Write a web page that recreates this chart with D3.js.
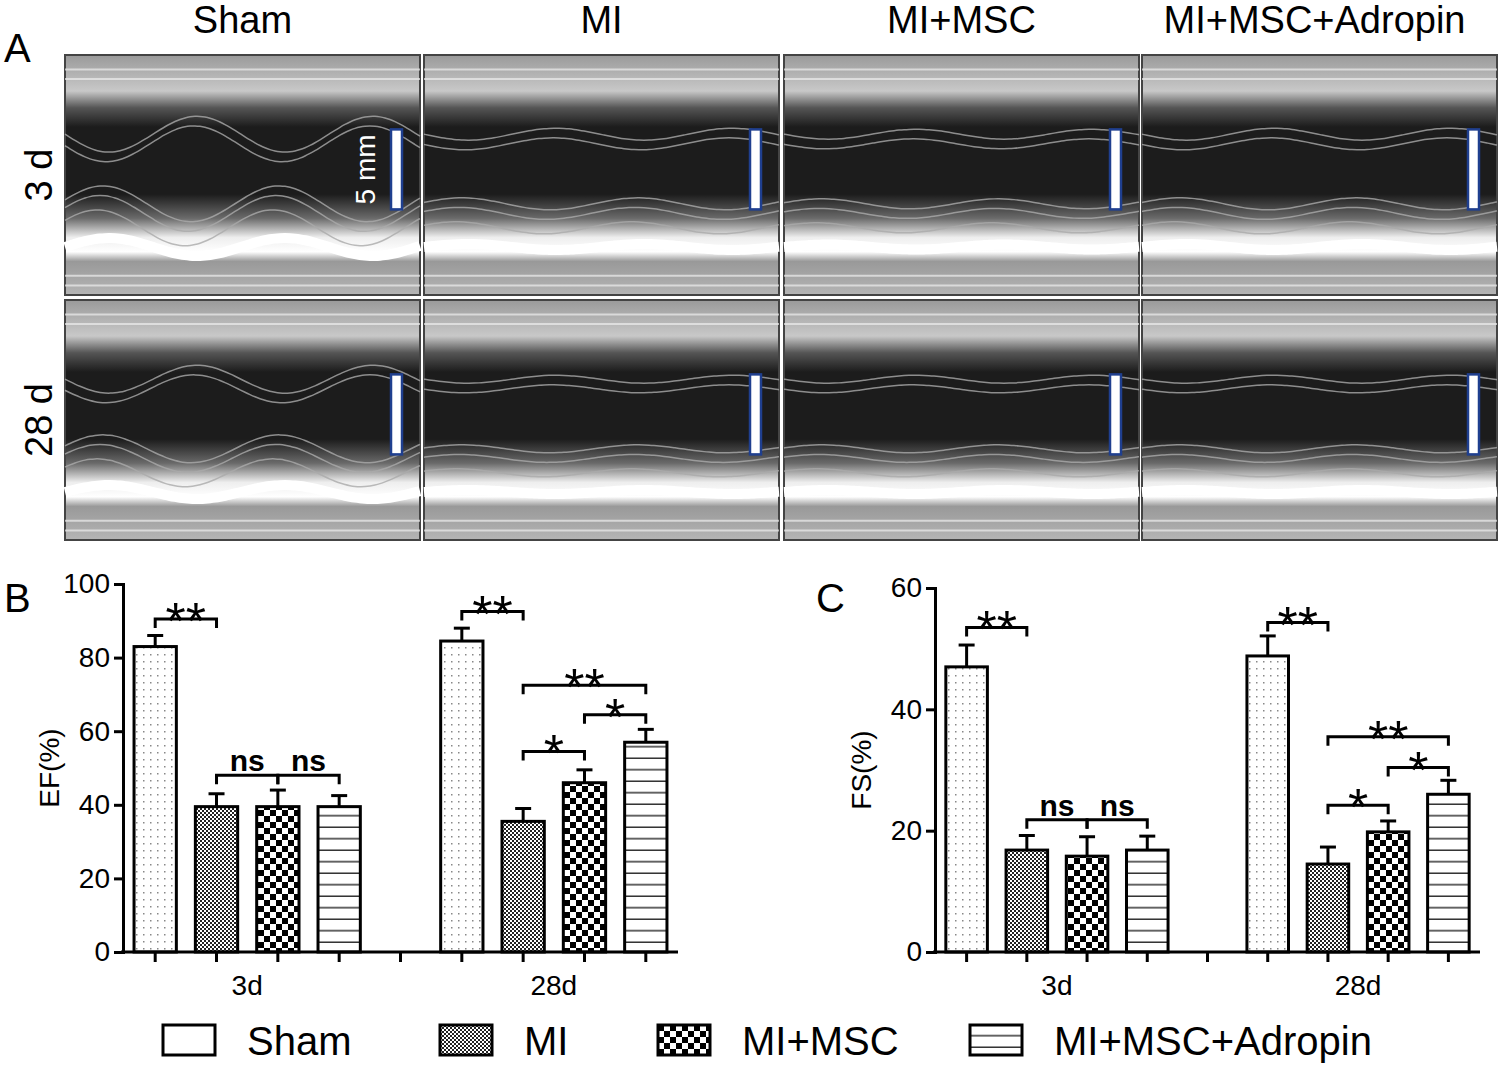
<!DOCTYPE html>
<html><head><meta charset="utf-8">
<script src="https://cdn.jsdelivr.net/npm/d3@7"></script>
<style>body{margin:0;background:#fff}svg{font-family:"Liberation Sans",Arial,sans-serif}</style>
</head><body><div id="chart"></div>
<script>
var groups = ["Sham", "MI", "MI+MSC", "MI+MSC+Adropin"];
var times = ["3d", "28d"];
var efMean = [[83, 39.5, 39.5, 39.5], [84.5, 35.5, 46, 57]];
var efErr = [[3, 3.5, 4.5, 3], [3.5, 3.5, 3.5, 3.5]];
var fsMean = [[47, 16.8, 15.8, 16.8], [48.8, 14.5, 19.8, 26]];
var fsErr = [[3.6, 2.4, 3.2, 2.3], [3.3, 2.8, 1.8, 2.3]];
// brackets: [time, from, to, value, label]
var efSig = [[0,0,1,90.5,"**"],[0,1,2,48,"ns"],[0,2,3,48,"ns"],[1,0,1,92.5,"**"],[1,1,2,54.5,"*"],[1,2,3,64.5,"*"],[1,1,3,72.5,"**"]];
var fsSig = [[0,0,1,53.5,"**"],[0,1,2,21.8,"ns"],[0,2,3,21.8,"ns"],[1,0,1,54.3,"**"],[1,1,2,24.2,"*"],[1,2,3,30.4,"*"],[1,1,3,35.5,"**"]];
var efTicks = [0, 20, 40, 60, 80, 100];
var fsTicks = [0, 20, 40, 60];
var rowLabels = ["3 d", "28 d"];

var svg = d3.select("#chart").append("svg").attr("width", 1500).attr("height", 1067);
var defs = svg.append("defs");

// fill patterns
var p = defs.append("pattern").attr("id","pSham").attr("patternUnits","userSpaceOnUse").attr("width",7).attr("height",7);
p.append("rect").attr("width",7).attr("height",7).attr("fill","#fff");
p.append("rect").attr("x",3).attr("y",3).attr("width",1.5).attr("height",1.5).attr("fill","#888");
p = defs.append("pattern").attr("id","pMI").attr("patternUnits","userSpaceOnUse").attr("width",4).attr("height",4);
p.append("rect").attr("width",4).attr("height",4).attr("fill","#fff");
p.append("rect").attr("width",2).attr("height",2).attr("fill","#222");
p.append("rect").attr("x",2).attr("y",2).attr("width",2).attr("height",2).attr("fill","#222");
p = defs.append("pattern").attr("id","pMSC").attr("patternUnits","userSpaceOnUse").attr("width",12).attr("height",12);
p.append("rect").attr("width",12).attr("height",12).attr("fill","#fff");
p.append("rect").attr("width",6).attr("height",6).attr("fill","#000");
p.append("rect").attr("x",6).attr("y",6).attr("width",6).attr("height",6).attr("fill","#000");
p = defs.append("pattern").attr("id","pAd").attr("patternUnits","userSpaceOnUse").attr("width",10).attr("height",11.5);
p.append("rect").attr("width",10).attr("height",11.5).attr("fill","#fff");
p.append("rect").attr("y",10).attr("width",10).attr("height",1.5).attr("fill","#333");
var fills = ["url(#pSham)","url(#pMI)","url(#pMSC)","url(#pAd)"];

// ---- panel A: echo strips (stylised) ----
var colX = [65, 424, 784, 1142], rowY = [55, 300];
var panelW = 355, panelH = 240;
var amp = [[18, 6, 5, 6], [14, 4, 4, 4]];
var lg = defs.append("linearGradient").attr("id","echoG").attr("x1",0).attr("x2",0).attr("y1",0).attr("y2",1);
[[0,"#9a9a9a"],[0.15,"#c8c8c8"],[0.22,"#555"],[0.3,"#1c1c1c"],[0.58,"#1c1c1c"],[0.68,"#6a6a6a"],[0.76,"#eee"],[0.82,"#ffffff"],[0.86,"#999"],[1,"#b5b5b5"]]
  .forEach(function(s){ lg.append("stop").attr("offset",s[0]).attr("stop-color",s[1]); });

svg.append("g").selectAll("text").data(groups).join("text")
  .attr("x", function(d,i){ return colX[i] + panelW/2 + (i === 3 ? -5 : 0); }).attr("y", 33)
  .attr("text-anchor","middle").attr("font-size",38).text(function(d){ return d; });
svg.append("text").attr("x",4).attr("y",62).attr("font-size",40).text("A");

rowY.forEach(function(ry, r){
  svg.append("text").attr("transform","translate(52," + (ry + panelH/2) + ") rotate(-90)")
    .attr("text-anchor","middle").attr("font-size",38).text(rowLabels[r]);
  colX.forEach(function(cx, c){
    var g = svg.append("g").attr("transform","translate(" + cx + "," + ry + ")");
    g.append("rect").attr("width",panelW).attr("height",panelH).attr("fill","url(#echoG)").attr("stroke","#444").attr("stroke-width",2);
    var a = amp[r][c];
    var wave = function(off, base, k){
      return d3.line().curve(d3.curveBasis)(d3.range(0, panelW + 1, 5).map(function(x){
        return [x, base + k * a * Math.sin((x + off) / 28)];
      }));
    };
    [[0.33,1],[0.37,1],[0.62,-1],[0.66,-1],[0.72,-1]].forEach(function(w, j){
      g.append("path").attr("d", wave(j*3, panelH*w[0], w[1])).attr("fill","none")
        .attr("stroke","#aaa").attr("stroke-width",1.5).attr("opacity",0.8);
    });
    g.append("path").attr("d", wave(0, panelH*0.8, -0.5)).attr("fill","none").attr("stroke","#fff").attr("stroke-width",10);
    [0.06,0.1,0.92,0.96].forEach(function(f){
      g.append("line").attr("x1",0).attr("x2",panelW).attr("y1",panelH*f).attr("y2",panelH*f)
        .attr("stroke","#eee").attr("stroke-width",2).attr("opacity",0.7);
    });
    g.append("rect").attr("x",panelW - 29).attr("y",panelH*0.31).attr("width",11).attr("height",80)
      .attr("fill","#fff").attr("stroke","#1f3f8f").attr("stroke-width",2.5);
    if (r === 0 && c === 0) {
      g.append("text").attr("transform","translate(" + (panelW - 45) + "," + (panelH*0.31 + 40) + ") rotate(-90)")
        .attr("text-anchor","middle").attr("fill","#fff").attr("font-size",28).text("5 mm");
    }
  });
});

// ---- bar panels ----
function barPanel(x0, x1, y0, yTop, maxV, ticks, mean, err, sig, ylab, letter, letterX){
  var slots = d3.range(9);
  var x = d3.scaleBand().domain(slots).range([x0, x1]).paddingInner(0.31).paddingOuter(0.18);
  var y = d3.scaleLinear().domain([0, maxV]).range([y0, yTop]);
  var g = svg.append("g");
  var slot = function(t, i){ return t * 5 + i; };

  times.forEach(function(tm, t){
    var rows = mean[t].map(function(v, i){ return {v: v, e: err[t][i], i: i}; });
    var bg = g.append("g");
    bg.selectAll("line.eb").data(rows).join("line")
      .attr("x1", function(d){ return x(slot(t,d.i)) + x.bandwidth()/2; })
      .attr("x2", function(d){ return x(slot(t,d.i)) + x.bandwidth()/2; })
      .attr("y1", function(d){ return y(d.v); }).attr("y2", function(d){ return y(d.v + d.e); })
      .attr("stroke","#000").attr("stroke-width",3);
    bg.selectAll("line.cap").data(rows).join("line")
      .attr("x1", function(d){ return x(slot(t,d.i)) + x.bandwidth()/2 - 8; })
      .attr("x2", function(d){ return x(slot(t,d.i)) + x.bandwidth()/2 + 8; })
      .attr("y1", function(d){ return y(d.v + d.e); }).attr("y2", function(d){ return y(d.v + d.e); })
      .attr("stroke","#000").attr("stroke-width",3);
    bg.selectAll("rect").data(rows).join("rect")
      .attr("x", function(d){ return x(slot(t,d.i)); }).attr("width", x.bandwidth())
      .attr("y", function(d){ return y(d.v); }).attr("height", function(d){ return y0 - y(d.v); })
      .attr("fill", function(d){ return fills[d.i]; }).attr("stroke","#000").attr("stroke-width",3);
  });

  sig.forEach(function(s){
    var xa = x(slot(s[0], s[1])) + x.bandwidth()/2, xb = x(slot(s[0], s[2])) + x.bandwidth()/2;
    var yy = y(s[3]);
    g.append("path").attr("d", "M" + xa + "," + (yy + 9) + "V" + yy + "H" + xb + "V" + (yy + 9))
      .attr("fill","none").attr("stroke","#000").attr("stroke-width",3);
    var star = s[4] !== "ns";
    g.append("text").attr("x",(xa + xb)/2).attr("y", yy + (star ? 20 : -4)).attr("text-anchor","middle")
      .attr("font-size", star ? 52 : 30).attr("font-weight", star ? "normal" : "bold").text(s[4]);
  });

  var ax = g.append("g").attr("transform","translate(0," + y0 + ")")
    .call(d3.axisBottom(x).tickSize(10).tickFormat(""));
  ax.select(".domain").attr("d","M" + (x0 - 2) + ",0H" + x1).attr("stroke-width",3);
  ax.selectAll(".tick line").attr("stroke-width",3);
  times.forEach(function(tm, t){
    g.append("text").attr("x", (x(slot(t,1)) + x(slot(t,2)) + x.bandwidth())/2).attr("y", y0 + 43)
      .attr("text-anchor","middle").attr("font-size",28).text(tm);
  });
  var ay = g.append("g").attr("transform","translate(" + x0 + ",0)")
    .call(d3.axisLeft(y).tickValues(ticks).tickSize(9).tickPadding(4));
  ay.select(".domain").attr("stroke-width",3);
  ay.selectAll(".tick line").attr("stroke-width",3);
  ay.selectAll(".tick text").attr("font-size",28).attr("font-family","Liberation Sans, Arial, sans-serif");
  g.append("text").attr("transform","translate(" + (x0 - 64) + "," + ((y0 + yTop)/2) + ") rotate(-90)")
    .attr("text-anchor","middle").attr("font-size",28).text(ylab);
  svg.append("text").attr("x",letterX).attr("y",612).attr("font-size",40).text(letter);
}
barPanel(123, 678, 952, 584, 100, efTicks, efMean, efErr, efSig, "EF(%)", "B", 4);
barPanel(935, 1480, 952, 588, 60, fsTicks, fsMean, fsErr, fsSig, "FS(%)", "C", 816);

// legend
var legX = [163, 440, 658, 970];
var leg = svg.append("g").selectAll("g").data(groups).join("g")
  .attr("transform", function(d,i){ return "translate(" + legX[i] + ",1025)"; });
leg.append("rect").attr("width",52).attr("height",30).attr("fill", function(d,i){ return i === 0 ? "#fff" : fills[i]; })
  .attr("stroke","#000").attr("stroke-width",3);
leg.append("text").attr("x",84).attr("y",30).attr("font-size",40).text(function(d){ return d; });
</script></body></html>
